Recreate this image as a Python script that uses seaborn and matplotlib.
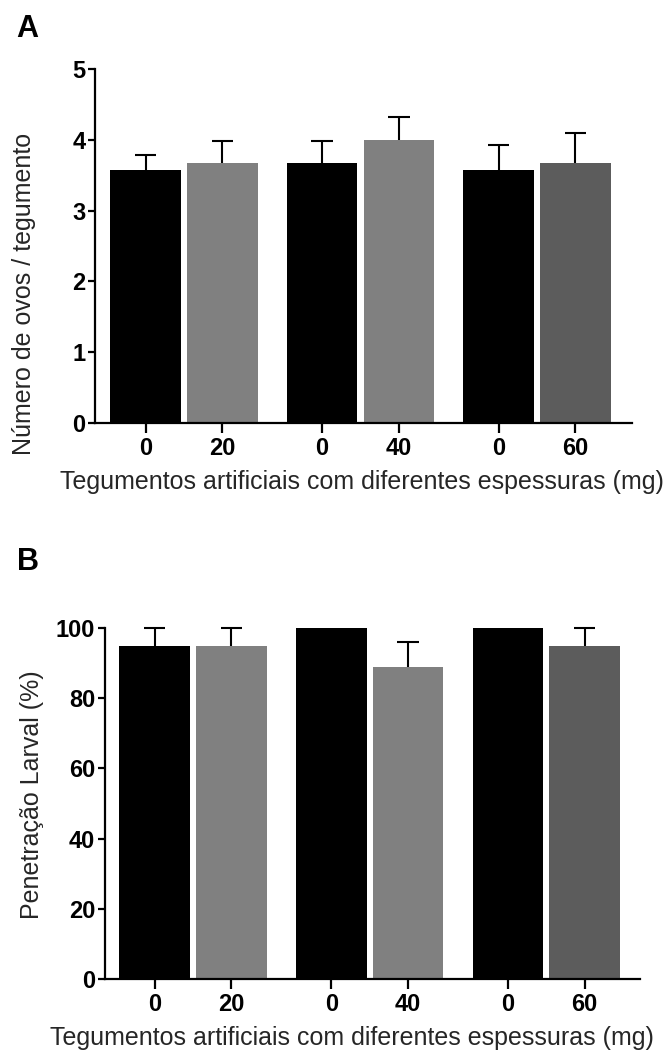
import numpy as np
import pandas as pd
import seaborn as sns
import matplotlib.pyplot as plt

# x tick labels: artificial tegument thickness (mg), control (0) next to each treatment
tick_labels = ["0", "20", "0", "40", "0", "60"]

# Panel A: eggs per tegument (mean and upper error)
eggs_mean = [3.57, 3.67, 3.67, 4.00, 3.57, 3.67]
eggs_err = [0.22, 0.32, 0.32, 0.32, 0.35, 0.43]

# Panel B: larval penetration (%)
larval_mean = [95, 95, 100, 89, 100, 95]
larval_err = [5, 5, 0, 7, 0, 5]

bar_colors = ["#000000", "#808080", "#000000", "#808080", "#000000", "#5c5c5c"]

x_title = "Tegumentos artificiais com diferentes espessuras (mg)"
y_title_a = "Número de ovos / tegumento"
y_title_b = "Penetração Larval (%)"

sns.set_theme(style="ticks")
plt.rcParams["font.family"] = ["Liberation Sans", "DejaVu Sans"]
plt.rcParams["text.color"] = "#1a1a1a"

# bars come in pairs (control + treated); pairs are separated by a wider gap
pair_idx = np.repeat(np.arange(3), 2)
member = np.tile([0, 1], 3)
pos = pair_idx * 2.3 + member

W, H = 671, 1056
fig = plt.figure(figsize=(W / 100, H / 100), dpi=100)


def fx(px):
    return px / W


def fy(py):
    return 1 - py / H


def panel(left, right, top, bottom, means, errs, ylim, yticks, xlim):
    ax = fig.add_axes([fx(left), fy(bottom), fx(right - left), (bottom - top) / H])
    df = pd.DataFrame({"pos": pos, "value": means,
                       "bar": [f"b{i}" for i in range(len(means))]})
    sns.barplot(data=df, x="pos", y="value", hue="bar", palette=bar_colors,
                native_scale=True, width=0.92, saturation=1, errorbar=None,
                legend=False, linewidth=0, dodge=False, ax=ax)
    m = np.asarray(means, dtype=float)
    e = np.asarray(errs, dtype=float)
    keep = e > 0
    ax.vlines(pos[keep], m[keep], (m + e)[keep], color="black", lw=1.5,
              clip_on=False, zorder=3)
    ax.hlines((m + e)[keep], pos[keep] - 0.14, pos[keep] + 0.14, color="black",
              lw=1.5, clip_on=False, zorder=3)
    ax.set_xlim(*xlim)
    ax.set_ylim(*ylim)
    ax.set_yticks(yticks)
    ax.set_xticks(pos, tick_labels)
    sns.despine(ax=ax)
    for s in ("left", "bottom"):
        ax.spines[s].set_linewidth(1.6)
        ax.spines[s].set_color("black")
    ax.tick_params(axis="both", length=5, width=1.6, color="black",
                   labelsize=17, pad=2)
    ax.tick_params(axis="x", length=7, pad=3)
    for t in ax.get_xticklabels() + ax.get_yticklabels():
        t.set_fontweight("bold")
        t.set_color("black")
    ax.set_xlabel("")
    ax.set_ylabel("")
    return ax


ax_a = panel(95, 632, 69, 423, eggs_mean, eggs_err, (0, 5), range(0, 6),
             (-0.658, 6.336))
ax_b = panel(105, 640, 628, 979, larval_mean, larval_err, (0, 100),
             range(0, 101, 20), (-0.645, 6.32))

ax_a.set_xlabel(x_title, fontsize=18)
ax_a.xaxis.set_label_coords(fx(362), fy(470), transform=fig.transFigure)
ax_a.set_ylabel(y_title_a, fontsize=18)
ax_a.yaxis.set_label_coords(fx(36), fy(294), transform=fig.transFigure)

ax_b.set_xlabel(x_title, fontsize=18)
ax_b.xaxis.set_label_coords(fx(352), fy(1026), transform=fig.transFigure)
ax_b.set_ylabel(y_title_b, fontsize=18)
ax_b.yaxis.set_label_coords(fx(44), fy(795), transform=fig.transFigure)

fig.text(fx(16), fy(37), "A", fontsize=22, fontweight="bold", color="black",
         ha="left", va="baseline")
fig.text(fx(17), fy(570), "B", fontsize=22, fontweight="bold", color="black",
         ha="left", va="baseline")

fig.savefig("out.png", dpi=100, facecolor="white")
